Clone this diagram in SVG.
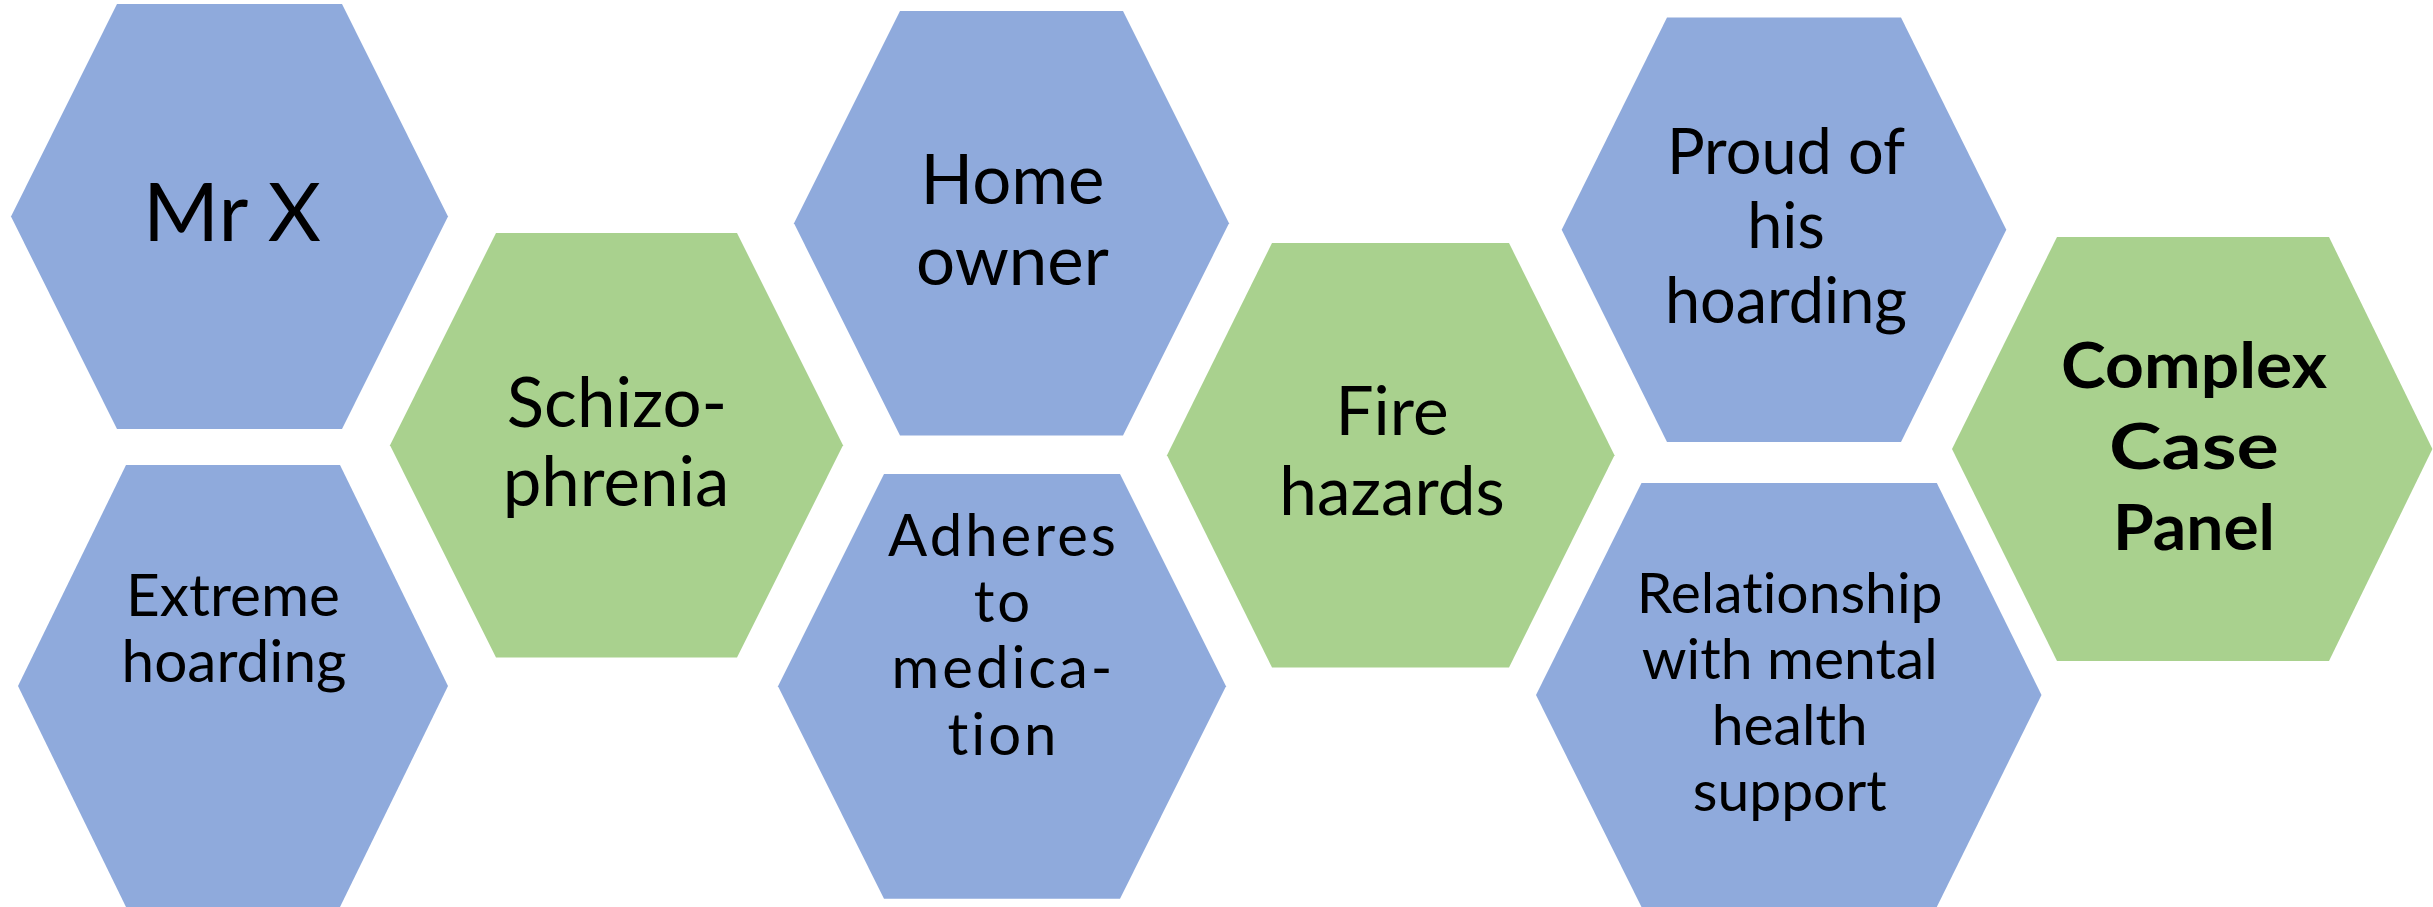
<svg xmlns="http://www.w3.org/2000/svg" width="2433" height="907" viewBox="0 0 2433 907">
<style>
.blue{fill:#8FAADC}
.green{fill:#A9D18E}
.t{font-family:Lato,"Liberation Sans",sans-serif;fill:#000;text-anchor:middle;font-variant-ligatures:none;font-feature-settings:"liga" 0}
.b{font-weight:bold}
</style>
<rect width="2433" height="907" fill="#FFFFFF"/>
<g id="connectors"></g>
<g id="node-mrx">
<polygon class="blue" points="117,4 342,4 448,216.5 342,429 117,429 11,216.5"/>
<text class="t" x="232" y="241" font-size="82">Mr X</text>
</g>
<g id="node-extreme">
<polygon class="blue" points="126,465 340,465 448,686 340,907 126,907 18,686"/>
<text class="t" font-size="58.5"><tspan x="233" y="615.7">Extreme</tspan><tspan x="234" y="681.7">hoarding</tspan></text>
</g>
<g id="node-schizo">
<polygon class="green" points="496,233 737,233 843,445.3 737,657.6 496,657.6 390,445.3"/>
<text class="t" font-size="69"><tspan x="617" y="426.7">Schizo-</tspan><tspan x="616" y="506">phrenia</tspan></text>
</g>
<g id="node-home">
<polygon class="blue" points="900,11 1123,11 1229,223.3 1123,435.5 900,435.5 794,223.3"/>
<text class="t" font-size="69"><tspan x="1012.5" y="204">Home</tspan><tspan x="1012.5" y="285">owner</tspan></text>
</g>
<g id="node-adheres">
<polygon class="blue" points="884,474 1120,474 1226,686.3 1120,898.7 884,898.7 778,686.3"/>
<text class="t" font-size="58" letter-spacing="3"><tspan x="1003.5" y="556">Adheres</tspan><tspan x="1003.5" y="621.5">to</tspan><tspan x="1003.5" y="688">medica-</tspan><tspan x="1003.5" y="754.5">tion</tspan></text>
</g>
<g id="node-fire">
<polygon class="green" points="1272,243 1509,243 1614.5,455.2 1509,667.4 1272,667.4 1167,455.2"/>
<text class="t" font-size="67.5"><tspan x="1392" y="435">Fire</tspan><tspan x="1392" y="514.7">hazards</tspan></text>
</g>
<g id="node-proud">
<polygon class="blue" points="1667,17.4 1901,17.4 2006.3,229.7 1901,442 1667,442 1561.7,229.7"/>
<text class="t" font-size="63"><tspan x="1786" y="174">Proud of</tspan><tspan x="1786" y="248.3">his</tspan><tspan x="1786" y="322.7">hoarding</tspan></text>
</g>
<g id="node-relationship">
<polygon class="blue" points="1641.5,483 1936.8,483 2041.5,695 1936.8,907 1641.5,907 1536,695"/>
<text class="t" font-size="57"><tspan x="1789.7" y="613.3">Relationship</tspan><tspan x="1789.7" y="679">with mental</tspan><tspan x="1789.7" y="745">health</tspan><tspan x="1789.7" y="810.7">support</tspan></text>
</g>
<g id="node-complex">
<polygon class="green" points="2057,237 2329,237 2432.4,449 2329,661 2057,661 1952,449"/>
<text class="t b" font-size="64"><tspan x="2194" y="388.3" textLength="266" lengthAdjust="spacingAndGlyphs">Complex</tspan><tspan x="2194" y="469" textLength="170" lengthAdjust="spacingAndGlyphs">Case</tspan><tspan x="2194" y="550" textLength="162" lengthAdjust="spacingAndGlyphs">Panel</tspan></text>
</g>
</svg>
